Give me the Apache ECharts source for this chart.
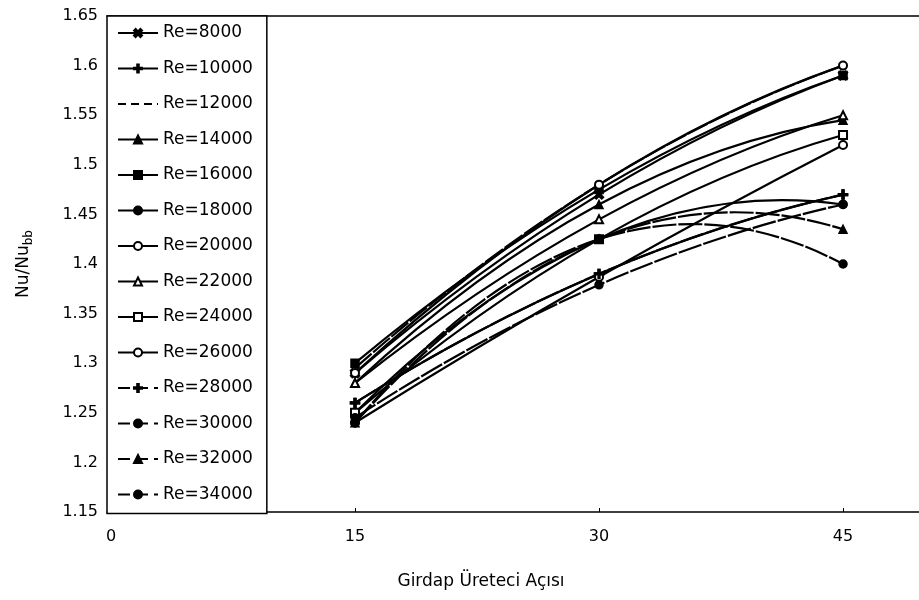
<!DOCTYPE html>
<html><head><meta charset="utf-8">
<script src="https://cdn.jsdelivr.net/npm/echarts@6/dist/echarts.min.js"></script>
<style>html,body{margin:0;padding:0;background:#fff}#c{width:919px;height:600px}</style>
</head><body><div id="c"></div>
<script>
// ---- data ----
const angles = [15, 30, 45];
const xTickValues = [0, 15, 30, 45];
const reNames = ['Re=8000','Re=10000','Re=12000','Re=14000','Re=16000','Re=18000','Re=20000',
                 'Re=22000','Re=24000','Re=26000','Re=28000','Re=30000','Re=32000','Re=34000'];
const re8000  = [1.29, 1.47, 1.59];
const re10000 = [1.26, 1.39, 1.47];
const re12000 = [1.295, 1.48, 1.60];
const re14000 = [1.28, 1.46, 1.545];
const re16000 = [1.30, 1.475, 1.59];
const re18000 = [1.25, 1.425, 1.46];
const re20000 = [1.29, 1.48, 1.60];
const re22000 = [1.28, 1.445, 1.55];
const re24000 = [1.25, 1.425, 1.53];
const re26000 = [1.24, 1.387, 1.52];
const re28000 = [1.26, 1.39, 1.47];
const re30000 = [1.245, 1.379, 1.46];
const re32000 = [1.24, 1.425, 1.435];
const re34000 = [1.24, 1.425, 1.40];
const reValues = [re8000, re10000, re12000, re14000, re16000, re18000, re20000,
                  re22000, re24000, re26000, re28000, re30000, re32000, re34000];

// ---- styles ----
const X_PATH = 'path://M0,2 L2,0 L5,3 L8,0 L10,2 L7,5 L10,8 L8,10 L5,7 L2,10 L0,8 L3,5 Z';
const PLUS_PATH = 'path://M4,0 H6 V4 H10 V6 H6 V10 H4 V6 H0 V4 H4 Z';
const symbols = [X_PATH, PLUS_PATH, 'none', 'triangle', 'rect', 'circle', 'emptyCircle',
                 'emptyTriangle', 'emptyRect', 'emptyCircle', PLUS_PATH, 'circle', 'triangle', 'circle'];
const legendDashes = ['solid','solid',[8,5],'solid','solid','solid','solid','solid','solid','solid',
                      [12,6],[12,6],[12,6],[12,6]];
const curveDashes = [null,null,[22,2],null,null,null,null,null,null,null,
                     [24,2],[24,2],[24,2],[24,2]];
const FONT = 'DejaVu Sans';
const X_MIN = -0.246, X_MAX = 49.67;

// markers (and legend entries)
const markerSeries = reNames.map((name, i) => ({
  name: name,
  type: 'line',
  z: 3,
  data: angles.map((a, j) => [a, reValues[i][j]]),
  symbol: symbols[i],
  symbolSize: (symbols[i] === PLUS_PATH || symbols[i] === X_PATH) ? 9 : 8,
  showSymbol: true,
  lineStyle: { color: '#000', width: 2, opacity: 0 },
  itemStyle: { color: '#000', borderColor: '#000', borderWidth: 1.5 },
  emphasis: { disabled: true },
  animation: false
}));

// fitted curves: quadratic through the three measured points of each series
const curveSeries = {
  type: 'custom',
  name: 'curves',
  z: 2,
  silent: true,
  animation: false,
  data: reNames.map((n, i) => [i]),
  renderItem: function (params, api) {
    const i = api.value(0);
    const v = reValues[i];
    const p0 = api.coord([angles[0], v[0]]);
    const p1 = api.coord([angles[1], v[1]]);
    const p2 = api.coord([angles[2], v[2]]);
    const cx = 2 * p1[0] - (p0[0] + p2[0]) / 2;
    const cy = 2 * p1[1] - (p0[1] + p2[1]) / 2;
    return {
      type: 'bezierCurve',
      shape: { x1: p0[0], y1: p0[1], x2: p2[0], y2: p2[1], cpx1: cx, cpy1: cy },
      style: { stroke: '#000', lineWidth: 2.2, fill: null, lineDash: curveDashes[i] }
    };
  }
};

const legendData = reNames.map((name, i) => {
  const item = {
    name: name,
    lineStyle: { color: '#000', width: 2, opacity: 1, type: legendDashes[i] }
  };
  if (symbols[i] === 'none') item.itemStyle = { opacity: 0 };
  return item;
});

const chart = echarts.init(document.getElementById('c'), null, { renderer: 'canvas' });
chart.setOption({
  animation: false,
  backgroundColor: '#fff',
  grid: { left: 107, top: 16, right: 0, bottom: 88, show: false },
  xAxis: [{
    type: 'value', min: X_MIN, max: X_MAX,
    name: 'Girdap Üreteci Açısı', nameLocation: 'middle', nameGap: 61,
    nameTextStyle: { fontFamily: FONT, fontSize: 17, color: '#000', padding: [0, 64, 0, 0] },
    axisLine: { show: true, lineStyle: { color: '#000', width: 1.5 } },
    axisTick: { show: true, inside: true, length: 4, customValues: xTickValues, lineStyle: { color: '#000' } },
    axisLabel: { customValues: xTickValues, fontFamily: FONT, fontSize: 16, color: '#000', margin: 17 },
    splitLine: { show: false }
  }, {
    type: 'value', min: X_MIN, max: X_MAX, position: 'top',
    axisLine: { show: true, lineStyle: { color: '#000', width: 1.5 } },
    axisTick: { show: false }, axisLabel: { show: false }, splitLine: { show: false }
  }],
  yAxis: {
    type: 'value', min: 1.15, max: 1.65, interval: 0.05,
    name: '{a|Nu/Nu}{b|bb}', nameLocation: 'middle', nameGap: 70,
    nameTextStyle: {
      color: '#000',
      rich: {
        a: { fontFamily: FONT, fontSize: 17, color: '#000', lineHeight: 26, verticalAlign: 'middle' },
        b: { fontFamily: FONT, fontSize: 12, color: '#000', lineHeight: 26, verticalAlign: 'bottom', padding: [0,0,2,0] }
      }
    },
    axisLine: { show: true, lineStyle: { color: '#000', width: 1.5 } },
    axisTick: { show: true, length: 3, lineStyle: { color: '#000' } },
    axisLabel: { fontFamily: FONT, fontSize: 16, color: '#000', margin: 9 },
    splitLine: { show: false }
  },
  legend: {
    orient: 'vertical', left: 107, top: 16,
    padding: [7, 14, 9, 10],
    itemWidth: 40, itemHeight: 10, itemGap: 15.5,
    borderColor: '#000', borderWidth: 1.5, backgroundColor: '#fff',
    textStyle: { fontFamily: FONT, fontSize: 17, color: '#000', lineHeight: 20 },
    selectedMode: false,
    data: legendData
  },
  series: [curveSeries].concat(markerSeries)
});
</script></body></html>
